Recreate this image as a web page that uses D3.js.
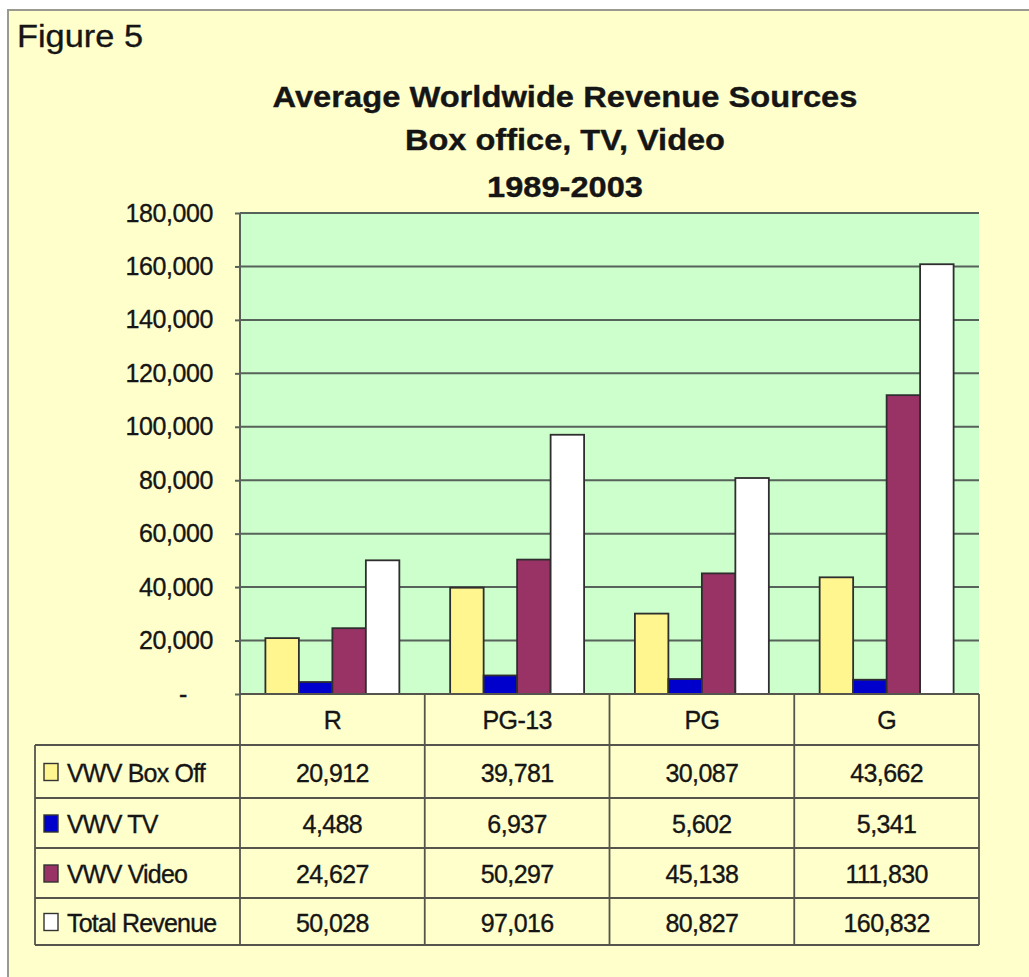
<!DOCTYPE html>
<html>
<head>
<meta charset="utf-8">
<script src="https://cdn.jsdelivr.net/npm/d3@7"></script>
<style>
  html, body { margin: 0; padding: 0; background: #ffffff; }
  svg { display: block; }
  text { font-family: "Liberation Sans", Arial, sans-serif; fill: #151515; stroke: #151515; stroke-width: 0.35px; }
</style>
</head>
<body>
<svg id="chart" width="1029" height="977"></svg>
<script>
// ---- data ----
const categories = ["R", "PG-13", "PG", "G"];
const seriesNames = ["VWV Box Off", "VWV TV", "VWV Video", "Total Revenue"];
const boxOffice = [20912, 39781, 30087, 43662];
const tv = [4488, 6937, 5602, 5341];
const video = [24627, 50297, 45138, 111830];
const totalRevenue = [50028, 97016, 80827, 160832];
const seriesColors = ["#FFF68F", "#0000CC", "#993366", "#FFFFFF"];
const yTicks = [0, 20000, 40000, 60000, 80000, 100000, 120000, 140000, 160000, 180000];
const figureLabel = "Figure 5";
const titleLines = ["Average Worldwide Revenue Sources", "Box office, TV, Video", "1989-2003"];

const seriesValues = [boxOffice, tv, video, totalRevenue];

// ---- layout ----
const svg = d3.select("#chart");
const plot = { left: 240, right: 979, top: 213, bottom: 694 };
const tableLeft = 35;
const rowEdges = [694, 745, 798, 848, 898, 945];
const gridColor = "#56625a";

// page background + outer frame
svg.append("rect").attr("x", 8).attr("y", 10).attr("width", 1040).attr("height", 1000)
  .attr("fill", "#FFFFCC").attr("stroke", "#9a9a90").attr("stroke-width", 2);

// figure label
svg.append("text").attr("x", 17).attr("y", 47).attr("font-size", 32)
  .attr("textLength", 126).attr("lengthAdjust", "spacingAndGlyphs").text(figureLabel);

// title
const titleY = [107, 150, 197];
const titleW = [585, 320, 156];
titleLines.forEach((t, i) => {
  svg.append("text").attr("x", 565).attr("y", titleY[i]).attr("text-anchor", "middle")
    .attr("font-size", 29).attr("font-weight", "bold")
    .attr("textLength", titleW[i]).attr("lengthAdjust", "spacingAndGlyphs")
    .text(t);
});

// scales
const x0 = d3.scaleBand().domain(categories).range([plot.left, plot.right])
  .paddingInner(0.275).paddingOuter(0.1375);
const x1 = d3.scaleBand().domain(seriesNames).range([0, x0.bandwidth()]);
const y = d3.scaleLinear().domain([0, 180000]).range([plot.bottom, plot.top]);

// plot background
svg.append("rect").attr("x", plot.left).attr("y", plot.top)
  .attr("width", plot.right - plot.left).attr("height", plot.bottom - plot.top)
  .attr("fill", "#CCFFCC");

// gridlines
svg.append("g").selectAll("line").data(yTicks.filter(d => d > 0)).join("line")
  .attr("x1", plot.left).attr("x2", plot.right)
  .attr("y1", d => y(d)).attr("y2", d => y(d))
  .attr("stroke", gridColor).attr("stroke-width", 2);

// y axis
const yAxis = d3.axisLeft(y).tickValues(yTicks).tickSize(5).tickPadding(22)
  .tickFormat(d => d === 0 ? "-" : d3.format(",")(d));
const ya = svg.append("g").attr("transform", `translate(${plot.left},0)`).call(yAxis);
ya.select(".domain").remove();
ya.selectAll(".tick line").attr("stroke", gridColor).attr("stroke-width", 2);
ya.selectAll(".tick text").attr("font-size", 25).attr("font-family", "Liberation Sans, Arial, sans-serif")
  .attr("fill", "#151515").attr("letter-spacing", -0.4);
ya.selectAll(".tick").filter(d => d === 0).select("text").attr("x", -53);

// bars
const groups = svg.append("g").selectAll("g").data(categories).join("g")
  .attr("transform", c => `translate(${x0(c)},0)`);
groups.selectAll("rect").data((c, ci) => seriesNames.map((s, si) => ({ s, si, v: seriesValues[si][ci] })))
  .join("rect")
  .attr("x", d => x1(d.s)).attr("width", x1.bandwidth())
  .attr("y", d => y(d.v)).attr("height", d => y(0) - y(d.v))
  .attr("fill", d => seriesColors[d.si]).attr("stroke", "#2e2e2e").attr("stroke-width", 1.8);

// left axis line
svg.append("line").attr("x1", plot.left).attr("x2", plot.left).attr("y1", plot.top).attr("y2", plot.bottom)
  .attr("stroke", gridColor).attr("stroke-width", 2);

// ---- data table ----
const tableColor = "#55554d";
const colEdges = [plot.left].concat(categories.map(c => x0(c) + x0.bandwidth() + x0.step() * x0.paddingInner() / 2));
colEdges[colEdges.length - 1] = plot.right;
const tg = svg.append("g");
tg.append("line").attr("x1", plot.left).attr("x2", plot.right).attr("y1", plot.bottom).attr("y2", plot.bottom)
  .attr("stroke", tableColor).attr("stroke-width", 1.8);
rowEdges.slice(1).forEach(yy => {
  tg.append("line").attr("x1", tableLeft).attr("x2", plot.right).attr("y1", yy).attr("y2", yy)
    .attr("stroke", tableColor).attr("stroke-width", 1.8);
});
colEdges.forEach(xx => {
  tg.append("line").attr("x1", xx).attr("x2", xx).attr("y1", plot.bottom).attr("y2", rowEdges[rowEdges.length - 1])
    .attr("stroke", tableColor).attr("stroke-width", 1.8);
});
tg.append("line").attr("x1", tableLeft).attr("x2", tableLeft).attr("y1", rowEdges[1]).attr("y2", rowEdges[rowEdges.length - 1])
  .attr("stroke", tableColor).attr("stroke-width", 1.8);

// category headers
categories.forEach((c, i) => {
  tg.append("text").attr("x", (colEdges[i] + colEdges[i + 1]) / 2).attr("y", (rowEdges[0] + rowEdges[1]) / 2 + 9)
    .attr("text-anchor", "middle").attr("font-size", 25).attr("letter-spacing", -0.6).text(c);
});
// series rows
seriesNames.forEach((s, si) => {
  const cy = (rowEdges[si + 1] + rowEdges[si + 2]) / 2;
  tg.append("rect").attr("x", 44).attr("y", cy - 8).attr("width", 14).attr("height", 17)
    .attr("fill", seriesColors[si]).attr("stroke", "#333333").attr("stroke-width", 1.4);
  tg.append("text").attr("x", 67).attr("y", cy + 10).attr("font-size", 25).attr("letter-spacing", -0.8).text(s);
  categories.forEach((c, ci) => {
    tg.append("text").attr("x", (colEdges[ci] + colEdges[ci + 1]) / 2).attr("y", cy + 10)
      .attr("text-anchor", "middle").attr("font-size", 25).attr("letter-spacing", -0.6)
      .text(d3.format(",")(seriesValues[si][ci]));
  });
});
</script>
</body>
</html>
